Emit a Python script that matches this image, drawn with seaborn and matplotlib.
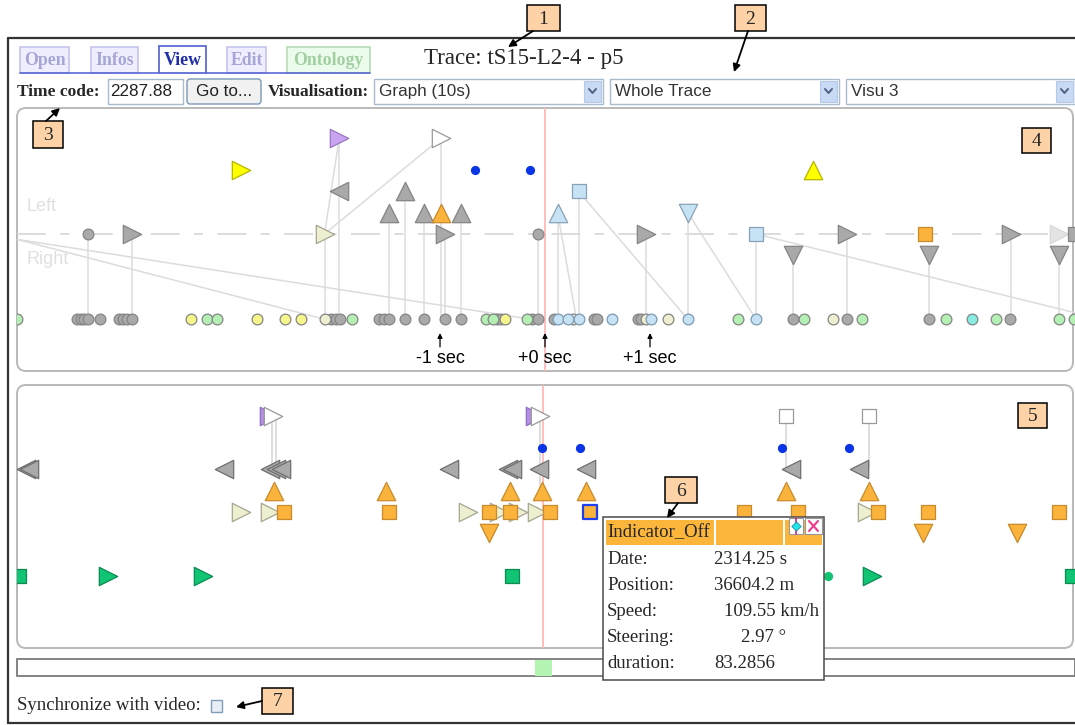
import matplotlib
matplotlib.use("Agg")
import matplotlib.pyplot as plt
from matplotlib.patches import Rectangle, FancyBboxPatch
import pandas as pd
import seaborn as sns

# ---------------- values ----------------
# time axis of both views: seconds relative to the cursor (+0 sec)
tick_times = [-1, 0, 1]
tick_labels = ["-1 sec", "+0 sec", "+1 sec"]

# graph view (panel 4); lane 0 = Left/Right axis, lane -4 = row of instants
p4_axis_grey_right = [-3.93, -0.95, 0.96, 2.88, 4.44]
p4_axis_faded_right = [4.90]
p4_axis_grey_sq = [5.05]
p4_axis_grey_dot = [-4.35, -0.07]
p4_axis_lightyellow = [-2.10]
p4_axis_lightblue_sq = [2.01]
p4_axis_orange_sq = [3.62]
p4_purple_right = [-1.96]
p4_white_right = [-0.99]
p4_yellow_right = [-2.90]
p4_blue_dot = [-0.67, -0.14]
p4_yellow_up = [2.55]
p4_grey_left = [-1.96]
p4_grey_up_hi = [-1.33]
p4_lightblue_sq = [0.32]
p4_grey_up = [-1.49, -1.15, -0.80]
p4_orange_up = [-0.99]
p4_lightblue_up = [0.12]
p4_lightblue_down = [1.36]
p4_grey_down = [2.36, 3.66, 4.90]

p4_inst_grey = [-4.46, -4.42, -4.39, -4.35, -4.24, -4.06, -4.02, -3.98, -3.93,
                -2.04, -1.99, -1.95, -1.58, -1.53, -1.49, -1.33, -1.15, -0.95,
                -0.80, -0.46, -0.42, -0.12, -0.07, 0.09, 0.47, 0.50, 0.89, 0.91,
                2.36, 2.88, 3.66, 4.43]
p4_inst_green = [-5.03, -3.22, -3.12, -1.84, -0.56, -0.50, -0.17, 1.84, 2.47,
                 3.02, 3.82, 4.30, 4.90, 5.04]
p4_inst_yellow = [-3.37, -2.74, -2.48, -2.32, -0.38]
p4_inst_lightyellow = [-2.10, 0.27, 0.96, 1.17, 2.74]
p4_inst_lightblue = [0.12, 0.22, 0.32, 0.64, 1.01, 1.36, 2.01]
p4_inst_teal = [4.07]

# stems: (time, lane of the event) joined to its instant
p4_stem_t = [-4.35, -3.93, -2.10, -1.96, -1.49, -1.33, -1.15, -0.99, -0.95,
             -0.80, -0.07, 0.12, 0.32, 0.96, 1.36, 2.01, 2.36, 2.88, 3.66,
             4.44, 4.90]
p4_stem_lane = [0, 0, 0, 4.5, 1, 2, 1, 4.5, 0, 1, 0, 1, 2, 0, 1, 0, -1, 0, -1,
                0, -1]
# diagonal links: start time, start lane, end time, end lane
p4_link_t0 = [-2.10, -2.10, -5.03, -5.03, 0.12, 0.32, 1.36, 2.01]
p4_link_l0 = [0, 0, -0.25, -0.25, 1, 2, 1, 0]
p4_link_t1 = [-1.96, -0.99, -2.10, -0.14, 0.30, 1.36, 2.01, 5.05]
p4_link_l1 = [4.5, 4.5, -4, -4, -4, -4, -4, -3.7]

# event view (panel 5)
p5_purple_right = [-2.63, -0.10]
p5_white_right = [-2.59, -0.05]
p5_white_sq = [2.30, 3.09]
p5_blue_dot = [-0.03, 0.33, 2.26, 2.90]
p5_grey_left = [-4.94, -4.91, -3.06, -2.62, -2.56, -2.51, -0.91, -0.35, -0.31,
                -0.06, 0.39, 2.34, 2.99]
p5_orange_up = [-2.58, -1.51, -0.33, -0.03, 0.39, 2.30, 3.09]
p5_lightyellow_right = [-2.90, -2.62, -0.73, -0.44, -0.26, -0.08, 3.07]
p5_orange_sq = [-2.49, -1.49, -0.53, -0.33, 0.05, 1.90, 2.41, 3.17, 3.65, 4.90]
p5_selected_sq = [0.43]
p5_orange_down = [-0.53, 3.60, 4.50]
p5_green_sq = [-5.01, -0.31, 5.02]
p5_green_right = [-4.16, -3.26, 3.11]
p5_green_dot = [2.70]
p5_stem_t = [-2.60, -2.56, -0.05, 2.30, 3.09]
p5_stem_top = [4.5, 4.5, 4.5, 4.5, 4.5]
p5_stem_bot = [2, 2, 1, 2, 2]

tooltip_title = "Indicator_Off"
tooltip_keys = ["Date:", "Position:", "Speed:", "Steering:", "duration:"]
tooltip_vals = ["2314.25 s", "36604.2 m", "109.55 km/h", "2.97 °", "83.2856"]

# ---------------- figure ----------------
sns.set_theme(style="white")
plt.rcParams['font.family'] = ['Liberation Serif', 'DejaVu Serif']
SANS = ['Liberation Sans', 'DejaVu Sans']
W, H = 1075, 725
fig = plt.figure(figsize=(W / 100, H / 100), dpi=100)
fig.patch.set_facecolor("white")

ui = fig.add_axes([0, 0, 1, 1])
ui.set_xlim(0, W)
ui.set_ylim(H, 0)
ui.set_axis_off()


def px_axes(x0, y0, x1, y1):
    return fig.add_axes([x0 / W, 1 - y1 / H, (x1 - x0) / W, (y1 - y0) / H])


ax4 = px_axes(17, 108, 1075, 371)
ax5 = px_axes(17, 385, 1075, 648)
top = fig.add_axes([0, 0, 1, 1], zorder=10)
top.set_xlim(0, W)
top.set_ylim(H, 0)
top.set_axis_off()

GREY, GREY_E = "#a9a9a9", "#858585"
ORANGE, ORANGE_E = "#fbb33c", "#c88a2a"
LYEL, LYEL_E = "#eeeed0", "#a6a690"
LBLUE, LBLUE_E = "#c6e2f5", "#8aa2b6"
GREEN, GREEN_E = "#10c474", "#0b8a52"
LGREEN = "#b4f0b4"
LINK = "#dcdcdc"


def pts(ax, t, lane, marker, fc, ec, s, lw=0.9, z=3, alpha=1.0):
    df = pd.DataFrame({"t": t, "lane": [lane] * len(t)})
    sns.scatterplot(data=df, x="t", y="lane", marker=marker, s=s, color=fc,
                    edgecolor=ec, linewidth=lw, ax=ax, zorder=z, alpha=alpha,
                    legend=False)


TRI, SQ, DOT, BLUE = 175, 112, 60, 44

# ---- panel 4: graph ----
ax4.axhline(0, color="#d9d9d9", lw=1.3, ls=(0, (16, 8, 5, 8)), zorder=1)
ax4.vlines(p4_stem_t, -4, p4_stem_lane, color=LINK, lw=1.1, zorder=1)
for a, b, c, d in zip(p4_link_t0, p4_link_l0, p4_link_t1, p4_link_l1):
    ax4.plot([a, c], [b, d], color=LINK, lw=1.1, zorder=1)
ax4.axvline(0, color="#ffb9b9", lw=1.3, zorder=2)

pts(ax4, p4_axis_faded_right, 0, ">", "#e4e4e4", "#d8d8d8", TRI)
pts(ax4, p4_axis_grey_sq, 0, "s", GREY, GREY_E, SQ)
pts(ax4, p4_axis_grey_right, 0, ">", GREY, GREY_E, TRI)
pts(ax4, p4_axis_grey_dot, 0, "o", GREY, GREY_E, DOT)
pts(ax4, p4_axis_lightyellow, 0, ">", LYEL, LYEL_E, TRI)
pts(ax4, p4_axis_lightblue_sq, 0, "s", LBLUE, LBLUE_E, SQ)
pts(ax4, p4_axis_orange_sq, 0, "s", ORANGE, ORANGE_E, SQ)
pts(ax4, p4_purple_right, 4.5, ">", "#c9a3f0", "#9a78c0", TRI)
pts(ax4, p4_white_right, 4.5, ">", "white", "#999999", TRI)
pts(ax4, p4_yellow_right, 3, ">", "#ffff00", "#b4b400", TRI)
pts(ax4, p4_blue_dot, 3, "o", "#0a35e6", "#0a35e6", BLUE, lw=0)
pts(ax4, p4_yellow_up, 3, "^", "#ffff00", "#b4b400", TRI)
pts(ax4, p4_grey_left, 2, "<", GREY, GREY_E, TRI)
pts(ax4, p4_grey_up_hi, 2, "^", GREY, GREY_E, TRI)
pts(ax4, p4_lightblue_sq, 2, "s", LBLUE, LBLUE_E, SQ)
pts(ax4, p4_grey_up, 1, "^", GREY, GREY_E, TRI)
pts(ax4, p4_orange_up, 1, "^", ORANGE, ORANGE_E, TRI)
pts(ax4, p4_lightblue_up, 1, "^", LBLUE, LBLUE_E, TRI)
pts(ax4, p4_lightblue_down, 1, "v", LBLUE, LBLUE_E, TRI)
pts(ax4, p4_grey_down, -1, "v", GREY, GREY_E, TRI)

pts(ax4, p4_inst_grey, -4, "o", GREY, GREY_E, DOT)
pts(ax4, p4_inst_green, -4, "o", LGREEN, GREY_E, DOT)
pts(ax4, p4_inst_yellow, -4, "o", "#f6f68a", GREY_E, DOT)
pts(ax4, p4_inst_lightyellow, -4, "o", LYEL, GREY_E, DOT)
pts(ax4, p4_inst_lightblue, -4, "o", LBLUE, "#7f9ab0", DOT)
pts(ax4, p4_inst_teal, -4, "o", "#86ece2", GREY_E, DOT)

for t, lab in zip(tick_times, tick_labels):
    ax4.annotate("", xy=(t, -4.65), xytext=(t, -5.3),
                 arrowprops=dict(arrowstyle="-|>", color="black", lw=0.9,
                                 mutation_scale=7, shrinkA=0, shrinkB=0))
    ax4.text(t, -5.85, lab, ha="center", va="center", fontsize=13,
             family=SANS, color="black")

ax4.set_xlim(-5.029, 5.048)
ax4.set_ylim(-6.432, 5.915)
ax4.set_axis_off()

# ---- panel 5: events ----
ax5.vlines(p5_stem_t, p5_stem_bot, p5_stem_top, color="#d4d4d4", lw=1.1, zorder=1)
ax5.axvline(-0.02, color="#ffb9b9", lw=1.3, zorder=2)
pts(ax5, p5_purple_right, 4.5, ">", "#b58ee6", "#8f6fbf", TRI)
pts(ax5, p5_white_right, 4.5, ">", "white", "#999999", TRI)
pts(ax5, p5_white_sq, 4.5, "s", "white", "#999999", SQ)
pts(ax5, p5_blue_dot, 3, "o", "#0a35e6", "#0a35e6", BLUE, lw=0)
pts(ax5, p5_grey_left, 2, "<", GREY, "#6f6f6f", TRI)
pts(ax5, p5_orange_up, 1, "^", ORANGE, ORANGE_E, TRI)
pts(ax5, p5_lightyellow_right, 0, ">", LYEL, LYEL_E, TRI)
pts(ax5, p5_orange_sq, 0, "s", ORANGE, ORANGE_E, SQ)
pts(ax5, p5_selected_sq, 0, "s", ORANGE, "#1e3ff0", SQ, lw=1.6)
pts(ax5, p5_orange_down, -1, "v", ORANGE, ORANGE_E, TRI)
pts(ax5, p5_green_sq, -3, "s", GREEN, GREEN_E, SQ)
pts(ax5, p5_green_right, -3, ">", GREEN, GREEN_E, TRI)
pts(ax5, p5_green_dot, -3, "o", GREEN, GREEN, BLUE, lw=0)
ax5.set_xlim(-5.029, 5.048)
ax5.set_ylim(-6.385, 5.962)
ax5.set_axis_off()

# ---------------- interface chrome ----------------
# outer frame
ui.plot([8, W], [38, 38], color="#333333", lw=1.6)
ui.plot([8, 8], [38, 723], color="#333333", lw=1.6)
ui.plot([8, W], [723, 723], color="#333333", lw=1.6)

# tabs
tabs = [("Open", 20, 69, "#eeeeff", "#c4c4ea", "#a6a6d6"),
        ("Infos", 91, 138, "#eeeeff", "#c4c4ea", "#a6a6d6"),
        ("View", 159, 206, "white", "#4f5fd0", "#1f2ea8"),
        ("Edit", 227, 266, "#eeeeff", "#c4c4ea", "#a6a6d6"),
        ("Ontology", 287, 370, "#ecfcec", "#b6dcb6", "#a2cfa2")]
ui.plot([20, 159], [73, 73], color="#5a68d6", lw=1.2)
ui.plot([206, 370], [73, 73], color="#5a68d6", lw=1.2)
for name, x0, x1, fc, ec, tc in tabs:
    y0 = 46 if name == "View" else 47
    ui.add_patch(Rectangle((x0, y0), x1 - x0, 73 - y0, fc=fc, ec=ec, lw=1.2))
    ui.text((x0 + x1) / 2, 60.5, name, ha="center", va="center", fontsize=12.8,
            fontweight="bold", color=tc)
ui.text(524, 58, "Trace: tS15-L2-4 - p5", ha="center", va="center", fontsize=16.5)

# second row: time code, button, selects
ui.text(17, 91.5, "Time code:", ha="left", va="center", fontsize=12.5,
        fontweight="bold")
ui.add_patch(Rectangle((108, 79), 75, 25, fc="white", ec="#a8bcd0", lw=1))
ui.text(110, 91, "2287.88", ha="left", va="center", fontsize=12.3, family=SANS,
        color="#222222")
ui.add_patch(FancyBboxPatch((187, 79), 74, 25, boxstyle="round,pad=0,rounding_size=3",
                            fc="#f1f1f1", ec="#7c98b6", lw=1))
ui.text(224, 91, "Go to...", ha="center", va="center", fontsize=12.3, family=SANS,
        color="#222222")
ui.text(268, 91.5, "Visualisation:", ha="left", va="center", fontsize=12.5,
        fontweight="bold")
selects = [(374, 603, "Graph (10s)"), (610, 839, "Whole Trace"), (846, 1075, "Visu 3")]
for x0, x1, lab in selects:
    ui.add_patch(Rectangle((x0, 79), x1 - x0, 25, fc="white", ec="#a8bcd0", lw=1))
    ui.add_patch(Rectangle((x1 - 19, 81), 17, 21, fc="#c9d9f4", ec="#b5c8e8", lw=0.8))
    ui.plot([x1 - 14, x1 - 10.5, x1 - 7], [89, 93, 89], color="#4d6185", lw=1.4)
    ui.text(x0 + 5, 91, lab, ha="left", va="center", fontsize=12.3, family=SANS,
            color="#333333")

# the two view panels
for y0, y1 in [(108, 371), (385, 648)]:
    ui.add_patch(FancyBboxPatch((17, y0), 1056, y1 - y0,
                                boxstyle="round,pad=0,rounding_size=9",
                                fc="white", ec="#b9b9b9", lw=1.4))
ui.text(26, 206, "Left", ha="left", va="center", fontsize=13, family=SANS,
        color="#e0e0e0")
ui.text(26, 259, "Right", ha="left", va="center", fontsize=13, family=SANS,
        color="#e0e0e0")

# scrollbar and video sync
ui.add_patch(Rectangle((17, 659), 1058, 17, fc="white", ec="#707070", lw=1.2))
ui.add_patch(Rectangle((535, 660), 17, 16, fc="#b4f5b4", ec="none"))
ui.text(17, 706, "Synchronize with video:", ha="left", va="center", fontsize=13.5)
ui.add_patch(Rectangle((211, 700), 11, 12, fc="#e9eef5", ec="#7f9db9", lw=1))

# tooltip
top.add_patch(Rectangle((603, 517), 221, 163, fc="white", ec="#4a4a4a", lw=1.1))
for x0, x1 in [(606, 714), (716, 783), (785, 822)]:
    top.add_patch(Rectangle((x0, 520), x1 - x0, 25, fc="#fbb53b", ec="none"))
top.text(607, 533, tooltip_title, ha="left", va="center", fontsize=13.5)
top.add_patch(Rectangle((789, 518), 14, 16, fc="white", ec="#9a9a9a", lw=0.8))
top.plot([796, 796], [518, 534], color="#d0208a", lw=1.2)
top.scatter([796], [526], marker="D", s=22, color="#22e6ea", edgecolor="#1a8fa0",
            lw=0.6, zorder=5)
top.add_patch(Rectangle((805, 518), 17, 16, fc="white", ec="#9a9a9a", lw=0.8))
top.plot([809, 818], [521, 531], color="#f0388a", lw=1.5)
top.plot([809, 818], [531, 521], color="#f0388a", lw=1.5)
val_x = [714, 714, 724, 741, 714]
for i, (k, v) in enumerate(zip(tooltip_keys, tooltip_vals)):
    y = 560 + 26 * i
    top.text(607, y, k, ha="left", va="center", fontsize=13.5)
    top.text(val_x[i], y, v, ha="left", va="center", fontsize=13.5)


# numbered callouts
def tag(x0, y0, w, h, s):
    top.add_patch(Rectangle((x0, y0), w, h, fc="#fdd2a6", ec="black", lw=1.1))
    top.text(x0 + w / 2, y0 + h / 2 + 1, s, ha="center", va="center", fontsize=14)


def arrow(x0, y0, x1, y1):
    top.annotate("", xy=(x1, y1), xytext=(x0, y0),
                 arrowprops=dict(arrowstyle="-|>", color="black", lw=1.3,
                                 mutation_scale=11, shrinkA=0, shrinkB=0))


tag(527, 5, 33, 26, "1")
arrow(533, 31, 508, 47)
tag(735, 5, 31, 26, "2")
arrow(748, 31, 734, 72)
tag(33, 121, 30, 27, "3")
arrow(46, 121, 60, 108)
tag(1022, 128, 29, 25, "4")
tag(1018, 403, 29, 25, "5")
tag(665, 477, 32, 26, "6")
arrow(678, 503, 667, 518)
tag(262, 688, 31, 26, "7")
arrow(262, 701, 236, 707)

fig.savefig("out.png", dpi=100, facecolor="white")
